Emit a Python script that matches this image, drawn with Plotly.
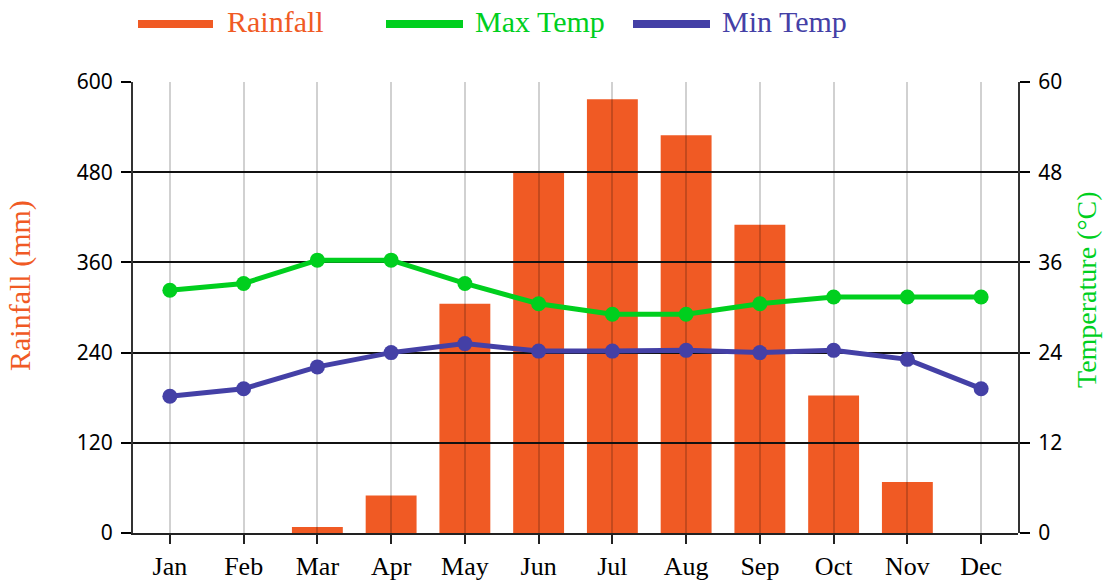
import plotly.graph_objects as go

months = ["Jan", "Feb", "Mar", "Apr", "May", "Jun", "Jul", "Aug", "Sep", "Oct", "Nov", "Dec"]
rainfall = [0, 0, 8, 50, 305, 480, 577, 529, 410, 183, 68, 0]
max_temp = [32.3, 33.2, 36.3, 36.3, 33.2, 30.5, 29.1, 29.1, 30.5, 31.4, 31.4, 31.4]
min_temp = [18.2, 19.2, 22.1, 24.0, 25.2, 24.2, 24.2, 24.3, 24.0, 24.3, 23.1, 19.2]
rain_ticks = [0, 120, 240, 360, 480, 600]
temp_ticks = [0, 12, 24, 36, 48, 60]

C_RAIN = "#F05A24"
C_MAX = "#00CF1E"
C_MIN = "#4440A6"
SERIF = "Liberation Serif"
SANS = "Noto Sans"

# plot area in pixels
L, R, T, B = 133, 1018, 82, 533
W, H = 1106, 583


def px_x(p):
    return (p - L) / (R - L)


def px_y(p):
    return (B - p) / (B - T)


fig = go.Figure()
fig.add_trace(go.Bar(x=months, y=rainfall, name="Rainfall", marker_color=C_RAIN,
                     marker_line_width=0, xaxis="x", yaxis="y", showlegend=False))
fig.add_trace(go.Scatter(x=months, y=max_temp, name="Max Temp", mode="lines+markers",
                         line=dict(color=C_MAX, width=5), marker=dict(size=15, color=C_MAX),
                         xaxis="x2", yaxis="y2", showlegend=False))
fig.add_trace(go.Scatter(x=months, y=min_temp, name="Min Temp", mode="lines+markers",
                         line=dict(color=C_MIN, width=5), marker=dict(size=15, color=C_MIN),
                         xaxis="x2", yaxis="y2", showlegend=False))

fig.update_layout(
    width=W, height=H,
    margin=dict(l=L, r=W - R, t=T, b=H - B, pad=0, autoexpand=False),
    paper_bgcolor="white", plot_bgcolor="rgba(0,0,0,0)",
    bargap=0.31,
    xaxis=dict(type="category", categoryarray=months, range=[-0.5, 11.5], domain=[0, 1],
               anchor="y", showgrid=False, zeroline=False, showline=True, linecolor="#222",
               linewidth=2, ticks="outside", ticklen=9, tickwidth=2, tickcolor="#222",
               automargin=False,
               tickfont=dict(family=SERIF, size=26, color="black")),
    yaxis=dict(range=[0, 600], tickvals=rain_ticks, domain=[0, 1], anchor="x", showgrid=False,
               zeroline=False, showline=True, linecolor="#333", linewidth=2, ticks="outside",
               ticklen=10, tickwidth=2, tickcolor="black", ticklabelstandoff=4, automargin=False,
               tickfont=dict(family=SANS, size=21, color="black")),
    xaxis2=dict(type="category", categoryarray=months, range=[-0.5, 11.5], domain=[0, 1],
                anchor="y2", showgrid=True, gridcolor="rgba(0,0,0,0.18)", gridwidth=2,
                zeroline=False, showline=False, showticklabels=False, ticks="", automargin=False),
    yaxis2=dict(range=[0, 60], tickvals=temp_ticks, domain=[0, 1], anchor="x2", side="right",
                showgrid=True, gridcolor="#111", gridwidth=2, zeroline=False, showline=True,
                linecolor="#333", linewidth=2, ticks="outside", ticklen=10, tickwidth=2,
                tickcolor="black", ticklabelstandoff=4, automargin=False,
                tickfont=dict(family=SANS, size=21, color="black")),
    showlegend=False,
)

# manual legend
legend_items = [("Rainfall", C_RAIN, 138, 213, 225),
                ("Max Temp", C_MAX, 386, 463, 473),
                ("Min Temp", C_MIN, 633, 710, 720)]
for name, col, x0, x1, xt in legend_items:
    fig.add_shape(type="line", xref="paper", yref="paper", x0=px_x(x0), x1=px_x(x1),
                  y0=px_y(24), y1=px_y(24), line=dict(color=col, width=8))
    fig.add_annotation(text=name, xref="paper", yref="paper", x=px_x(xt), y=px_y(21),
                       xanchor="left", yanchor="middle", showarrow=False,
                       font=dict(family=SERIF, size=30, color=col))

fig.add_annotation(text="Rainfall (mm)", xref="paper", yref="paper", x=px_x(20), y=px_y(286),
                   textangle=-90, xanchor="center", yanchor="middle", showarrow=False,
                   font=dict(family=SERIF, size=30, color=C_RAIN))
fig.add_annotation(text="Temperature (°C)", xref="paper", yref="paper", x=px_x(1086), y=px_y(290),
                   textangle=-90, xanchor="center", yanchor="middle", showarrow=False,
                   font=dict(family=SERIF, size=28, color=C_MAX))

fig.write_html("out.html", config={"displayModeBar": False},
               post_script="document.body.style.margin='0px';document.body.style.padding='0px';")
